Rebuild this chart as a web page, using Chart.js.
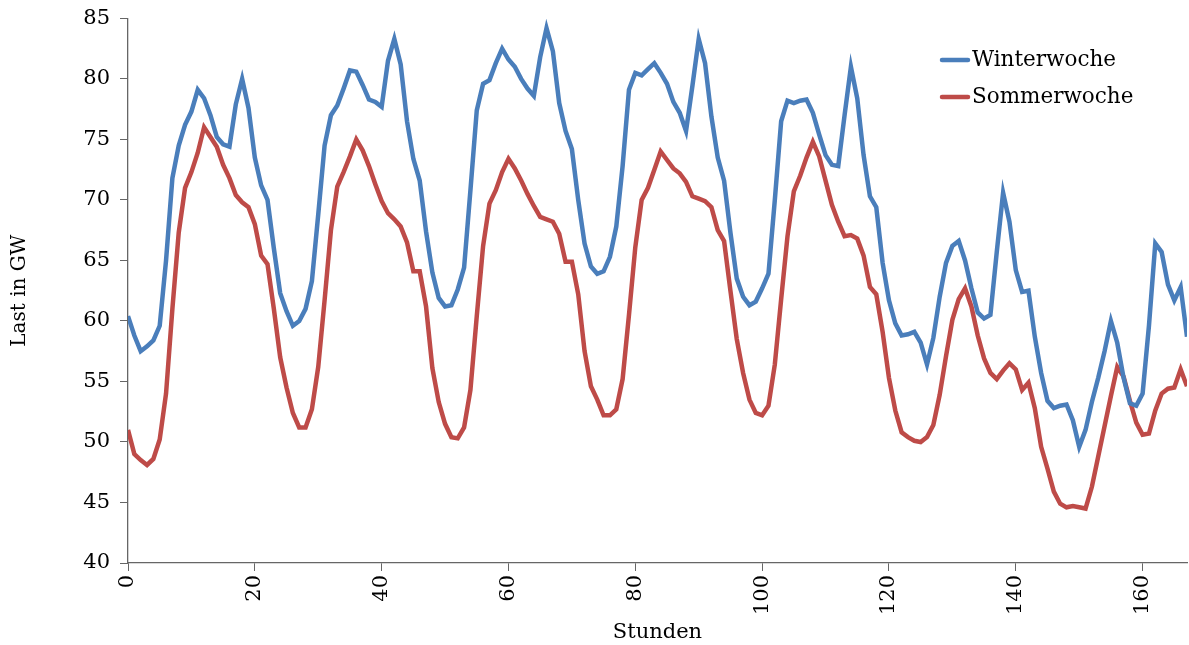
<!DOCTYPE html>
<html>
<head>
<meta charset="utf-8">
<script src="https://cdn.jsdelivr.net/npm/chart.js@4/dist/chart.umd.min.js"></script>
<style>
html,body{margin:0;padding:0;background:#fff;}
#wrap{position:relative;width:1189px;height:645px;}
</style>
</head>
<body>
<div id="wrap"><canvas id="c" width="1189" height="645"></canvas></div>
<script>
const seriesNames = ["Winterwoche", "Sommerwoche"];
const seriesColors = ["#4A7EBB", "#BE4B48"];
const xTitle = "Stunden";
const yTitle = "Last in GW";
const yTicks = [40, 45, 50, 55, 60, 65, 70, 75, 80, 85];
const xTicks = [0, 20, 40, 60, 80, 100, 120, 140, 160];

const winter = [
60.4,58.8,57.5,57.9,58.4,59.6,65.0,71.8,74.5,76.2,77.3,79.1,78.4,77.0,75.2,74.6,74.4,77.9,80.0,77.6,
73.5,71.2,70.0,66.0,62.3,60.8,59.6,60.0,61.0,63.3,68.8,74.5,77.0,77.8,79.2,80.7,80.6,79.5,78.3,78.1,
77.7,81.5,83.3,81.2,76.5,73.4,71.6,67.4,64.0,61.9,61.2,61.3,62.6,64.4,70.8,77.4,79.6,79.9,81.3,82.5,
81.6,81.0,80.0,79.2,78.6,81.8,84.2,82.3,78.0,75.7,74.2,70.0,66.4,64.5,63.9,64.1,65.3,67.8,72.8,79.1,
80.5,80.3,80.8,81.3,80.5,79.6,78.1,77.2,75.7,79.4,83.3,81.3,76.9,73.5,71.6,67.3,63.5,62.0,61.3,61.6,
62.7,63.9,70.0,76.5,78.2,78.0,78.2,78.3,77.2,75.4,73.7,72.9,72.8,77.0,81.0,78.4,73.7,70.3,69.4,64.8,
61.7,59.8,58.8,58.9,59.1,58.2,56.4,58.6,62.0,64.8,66.2,66.6,65.0,62.7,60.7,60.2,60.5,65.7,70.6,68.2,
64.2,62.4,62.5,58.7,55.7,53.4,52.8,53.0,53.1,51.8,49.6,51.0,53.3,55.3,57.5,60.0,58.2,55.3,53.2,53.0,
54.0,59.6,66.4,65.7,63.0,61.7,62.8,58.7
];
const summer = [
51.0,49.0,48.5,48.1,48.6,50.2,54.0,61.0,67.3,71.0,72.3,73.9,76.0,75.2,74.4,72.9,71.8,70.4,69.8,69.4,
68.0,65.4,64.7,61.0,57.0,54.5,52.4,51.2,51.2,52.7,56.2,61.7,67.5,71.1,72.3,73.6,75.0,74.1,72.8,71.3,
69.9,68.9,68.4,67.8,66.5,64.1,64.1,61.2,56.1,53.3,51.5,50.4,50.3,51.2,54.3,60.4,66.2,69.7,70.8,72.3,
73.4,72.6,71.6,70.5,69.5,68.6,68.4,68.2,67.2,64.9,64.9,62.2,57.5,54.6,53.5,52.2,52.2,52.7,55.2,60.5,
66.1,70.0,71.0,72.5,74.0,73.3,72.6,72.2,71.5,70.3,70.1,69.9,69.4,67.5,66.6,62.5,58.5,55.7,53.5,52.4,
52.2,53.0,56.4,61.8,67.0,70.7,72.0,73.5,74.8,73.6,71.6,69.6,68.2,67.0,67.1,66.8,65.4,62.8,62.2,59.1,
55.3,52.6,50.8,50.4,50.1,50.0,50.4,51.4,53.9,57.1,60.1,61.8,62.7,61.2,58.8,56.9,55.7,55.2,55.9,56.5,
56.0,54.3,54.9,52.8,49.6,47.8,45.9,44.9,44.6,44.7,44.6,44.5,46.3,48.8,51.3,53.8,56.2,55.4,53.4,51.6,
50.6,50.7,52.6,54.0,54.4,54.5,56.0,54.6
];

const FONT = "'DejaVu Serif', 'Liberation Serif', serif";
const toPts = arr => arr.map((v, i) => ({x: i, y: v}));

const legendPlugin = {
  id: 'insideLegend',
  afterDraw(chart) {
    const ctx = chart.ctx;
    ctx.save();
    chart.data.datasets.forEach((ds, i) => {
      const y = 60 + i * 37;
      ctx.strokeStyle = ds.borderColor;
      ctx.lineWidth = 4.5;
      ctx.lineCap = 'round';
      ctx.beginPath();
      ctx.moveTo(942, y);
      ctx.lineTo(968, y);
      ctx.stroke();
      ctx.fillStyle = '#000';
      ctx.font = "21.5px " + FONT;
      ctx.textBaseline = 'middle';
      ctx.textAlign = 'left';
      ctx.fillText(ds.label, 972, y);
    });
    ctx.restore();
  }
};

new Chart(document.getElementById('c'), {
  type: 'line',
  data: {
    datasets: [
      {label: seriesNames[0], data: toPts(winter), borderColor: seriesColors[0], backgroundColor: seriesColors[0], borderWidth: 4.5, pointRadius: 0, tension: 0},
      {label: seriesNames[1], data: toPts(summer), borderColor: seriesColors[1], backgroundColor: seriesColors[1], borderWidth: 4.5, pointRadius: 0, tension: 0}
    ]
  },
  options: {
    responsive: false,
    animation: false,
    layout: {padding: {top: 4, right: 2, left: 0, bottom: 0}},
    plugins: {legend: {display: false}, tooltip: {enabled: false}},
    scales: {
      x: {
        type: 'linear', min: 0, max: 167,
        afterBuildTicks: s => { s.ticks = xTicks.map(v => ({value: v})); },
        afterFit: s => { s.height = 82; },
        ticks: {includeBounds: false, autoSkip: false, maxRotation: 90, minRotation: 90, color: '#000', font: {family: FONT, size: 21}, padding: 4},
        grid: {display: true, drawOnChartArea: false, drawTicks: true, tickLength: 8, color: '#666'},
        border: {display: true, color: '#666', width: 1.3},
        title: {display: true, text: xTitle, color: '#000', font: {family: FONT, size: 21}, padding: {top: 0, bottom: 0}}
      },
      y: {
        type: 'linear', min: 40, max: 85,
        afterBuildTicks: s => { s.ticks = yTicks.map(v => ({value: v})); },
        afterFit: s => { s.width = 128; },
        ticks: {color: '#000', font: {family: FONT, size: 21, lineHeight: 0.8}, padding: 10},
        grid: {display: true, drawOnChartArea: false, drawTicks: true, tickLength: 8, color: '#666'},
        border: {display: true, color: '#666', width: 1.3},
        title: {display: true, text: yTitle, color: '#000', font: {family: FONT, size: 20}, padding: {top: 8, bottom: 14}}
      }
    }
  },
  plugins: [legendPlugin]
});
</script>
</body>
</html>
